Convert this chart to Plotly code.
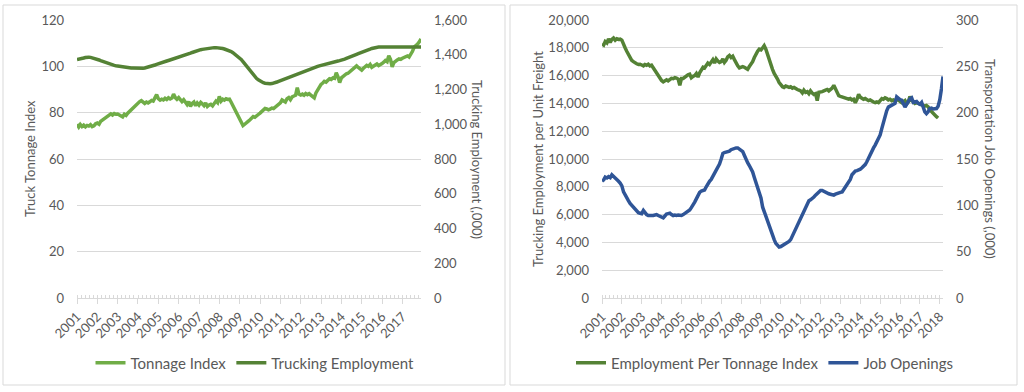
import plotly.graph_objects as go
import pandas as pd

# ---------------- data (monthly, from Jan 2001) ----------------
tonnage_index = [
    75.0, 73.8, 74.9, 74.0, 74.6, 73.9, 74.5, 74.2, 74.8, 74.0, 74.3, 75.2,
    75.5, 75.0, 76.2, 76.8, 77.5, 78.0, 78.5, 79.2, 79.5, 79.0, 79.6, 79.3,
    79.4, 79.0, 78.6, 78.2, 79.3, 78.8, 79.8, 80.5, 81.5, 82.2, 83.0, 83.2,
    84.0, 84.8, 85.2, 84.5, 84.0, 84.6, 84.2, 84.7, 85.3, 85.0, 86.5, 87.8,
    86.0, 85.4, 85.8, 85.5, 86.2, 85.7, 86.4, 85.9, 86.3, 88.0, 86.5, 85.8,
    86.5, 85.3, 84.8, 85.6, 84.5, 83.5, 84.8, 82.7, 84.0, 84.6, 83.0, 84.2,
    83.3, 84.4, 83.8, 83.0, 84.2, 82.7, 83.3, 83.6, 82.9, 84.0, 85.0, 84.3,
    87.0, 85.0, 85.8, 85.4, 86.0, 85.7, 85.8, 84.5, 83.0, 81.5, 79.8, 78.5,
    77.5, 75.8, 74.4, 75.0, 75.8, 76.2, 76.8, 77.5, 78.3, 78.0, 78.8, 79.2,
    79.8, 80.5, 81.2, 81.8, 81.6, 81.2, 81.5, 82.0, 81.8, 82.5, 83.0, 83.5,
    84.2, 85.5, 85.0, 84.6, 86.0, 86.5, 85.6, 86.8, 87.2, 87.5, 90.8, 88.0,
    87.6, 88.0, 87.5, 88.3, 87.8, 88.2, 87.6, 87.0, 86.4, 88.5, 90.0, 91.2,
    92.2, 92.8, 93.5, 93.2, 94.0, 94.6, 94.3, 95.0, 94.8, 97.2, 95.5, 93.0,
    95.0, 95.8, 96.2, 96.8, 97.0, 97.6, 98.2, 98.6, 99.4, 100.2, 99.5, 98.9,
    98.4, 99.2, 99.8, 100.4, 100.0, 100.8, 99.6, 100.2, 100.7, 101.0, 100.3, 100.6,
    101.2, 101.8, 102.5, 102.0, 104.6, 103.0, 99.8, 101.6, 102.5, 102.8, 103.2, 103.0,
    103.5, 103.8, 104.2, 104.5, 104.0, 105.0, 106.5, 108.3, 108.8, 109.6, 110.6, 111.8,
]

trucking_employment = [
    1372, 1373, 1375, 1378, 1381, 1384, 1386, 1386, 1385, 1383, 1380, 1377,
    1374, 1370, 1366, 1362, 1358, 1354, 1350, 1347, 1344, 1341, 1339, 1337,
    1335, 1333, 1331, 1329, 1328, 1327, 1326, 1325, 1324, 1324, 1323, 1323,
    1322, 1322, 1322, 1323, 1324, 1326, 1328, 1331, 1334, 1337, 1341, 1345,
    1349, 1352, 1355, 1358, 1361, 1364, 1367, 1370, 1373, 1376, 1379, 1382,
    1384, 1388, 1391, 1395, 1398, 1402, 1406, 1409, 1413, 1417, 1420, 1424,
    1427, 1429, 1431, 1433, 1435, 1437, 1438, 1439, 1440, 1441, 1441, 1441,
    1440, 1438, 1436, 1433, 1430, 1427, 1423, 1418, 1412, 1405, 1398, 1390,
    1382, 1372, 1360, 1347, 1334, 1320, 1307, 1295, 1283, 1272, 1263, 1256,
    1249, 1243, 1239, 1236, 1234, 1233, 1233, 1234, 1236, 1239, 1243, 1247,
    1251, 1255, 1259, 1263, 1267, 1271, 1275, 1279, 1283, 1287, 1291, 1294,
    1297, 1301, 1305, 1308, 1312, 1316, 1319, 1323, 1326, 1330, 1333, 1336,
    1339, 1341, 1344, 1346, 1349, 1351, 1354, 1356, 1359, 1361, 1364, 1366,
    1368, 1372, 1375, 1379, 1382, 1386, 1390, 1394, 1398, 1402, 1406, 1409,
    1412, 1416, 1420, 1424, 1428, 1432, 1436, 1439, 1441, 1443, 1444, 1444,
    1444, 1444, 1444, 1444, 1444, 1444, 1444, 1444, 1444, 1444, 1444, 1444,
    1444, 1444, 1444, 1444, 1444, 1444, 1444, 1444, 1444, 1444, 1444, 1444,
]

employment_per_tonnage = [
    18300, 18200, 18450, 18350, 18650, 18400, 18600, 18700, 18550, 18650, 18600, 18620,
    18550, 18200, 18000, 17750, 17500, 17300, 17100, 17000, 16900, 16850, 16800, 16820,
    16760, 16700, 16800, 16750, 16820, 16700, 16750, 16550, 16400, 16200, 16050, 15850,
    15650, 15550, 15600, 15700, 15620, 15680, 15800, 15780, 15850, 15820, 15750, 15300,
    15800, 15800, 15900, 15950, 16050, 16100, 15850, 15950, 16000, 16150, 15900, 16200,
    16400, 16600, 16550, 16750, 16900, 16800, 17000, 17150, 16900, 17200, 17050, 16950,
    17000, 17200, 16950, 17100, 17350, 17450, 17300, 17400, 17150, 16900, 16700, 16550,
    16600, 16650, 16600, 16500, 16450, 16650, 16800, 17000, 17300, 17600, 17750, 17900,
    17850, 18000, 18150, 17900, 17500, 17150, 16800, 16450, 16150, 16000, 15750, 15500,
    15300, 15200, 15150, 15250, 15200, 15150, 15200, 15100, 15150, 15050, 15000, 14950,
    14900, 14750, 14950, 14800, 14850, 14700, 14900, 14750, 14650, 14700, 14200, 14800,
    14800, 14850, 14900, 14950, 15000, 14900, 15000, 15100, 15300, 15000, 14700, 14550,
    14500, 14450, 14400, 14400, 14350, 14300, 14350, 14250, 14300, 14050, 14300, 14650,
    14450, 14350, 14300, 14350, 14250, 14200, 14250, 14150, 14100, 14050, 14100, 14050,
    14250, 14350, 14300, 14400, 14350, 14250, 14300, 14200, 14250, 14200, 14300, 14250,
    14150, 14050, 14100, 14200, 13950, 14100, 14500, 14200, 14150, 14000, 14050, 14000,
    13950, 13900, 13850, 13800, 13850, 13750, 13550, 13400, 13350, 13200, 13050, 12950,
]

job_openings = [
    126, 127.5, 130.5, 129.5, 131, 130, 133, 131.5, 129, 128.5, 126, 124,
    121, 114.5, 111, 108, 105, 102, 100, 97.5, 95, 93, 92, 91.5,
    91, 94.5, 92, 90, 89, 88.5, 89, 89, 89.5, 90, 89, 88,
    87.5, 86.5, 88.5, 90.5, 91, 91.5, 90, 89, 89.5, 89, 89.5, 89.5,
    89, 90, 91, 92, 93, 95, 97.5, 100, 103.5, 107, 111, 114,
    115.5, 116, 116.5, 120, 123.5, 126, 128, 131, 134, 137.5, 141.5, 144.5,
    150, 156, 157, 157.5, 158, 158.5, 160, 161, 161.5, 162, 162, 161,
    160, 158, 154, 149, 146, 143, 140, 136, 130, 124, 119, 114,
    108, 98, 93, 89, 84, 78, 73, 68, 63, 59, 57, 55,
    55.5, 56.5, 58, 59, 60, 61, 63, 67, 71, 75, 79, 82,
    86, 91, 95, 99, 102, 105, 106, 107, 109, 111, 113, 115,
    116, 116, 115, 113.5, 113, 112.5, 112, 111.5, 111, 112, 113, 114,
    114, 114.5, 117, 120, 122, 124, 128, 133, 135, 137, 137.5, 138,
    139, 140.5, 142, 144, 147, 151, 156, 159, 162, 165, 168.5, 172,
    176, 183, 190, 197, 202, 206, 207, 208, 209, 210, 217, 215,
    214, 213.5, 209, 206, 209, 212.5, 215, 216, 211, 211.5, 212, 210,
    209, 211, 205, 201, 199, 201, 204.5, 205, 204, 204, 204.5, 207,
    214, 226, 239,
]

months_a = pd.date_range("2001-01-01", periods=len(tonnage_index), freq="MS")
months_b = pd.date_range("2001-01-01", periods=len(job_openings), freq="MS")

# ---------------- styling ----------------
FONT = "Lato"
TXT = "#595959"
GRID = "#d9d9d9"
W, H = 1024, 392
LW = 3.5

def px_x(a, b):
    return [a / W, b / W]

def px_y(top, bottom):
    return [(H - bottom) / H, (H - top) / H]

fig = go.Figure()
fig.add_trace(go.Scatter(x=months_a, y=tonnage_index, name="Tonnage Index",
                         xaxis="x", yaxis="y", mode="lines",
                         line=dict(color="#70AD47", width=LW), legend="legend"))
fig.add_trace(go.Scatter(x=months_a, y=trucking_employment, name="Trucking Employment",
                         xaxis="x", yaxis="y2", mode="lines",
                         line=dict(color="#548235", width=LW), legend="legend"))
fig.add_trace(go.Scatter(x=months_a, y=employment_per_tonnage, name="Employment Per Tonnage Index",
                         xaxis="x2", yaxis="y3", mode="lines",
                         line=dict(color="#548235", width=LW), legend="legend2"))
fig.add_trace(go.Scatter(x=months_b, y=job_openings, name="Job Openings",
                         xaxis="x2", yaxis="y4", mode="lines",
                         line=dict(color="#2F5597", width=LW), legend="legend2"))

tick_font = dict(family=FONT, size=13, color=TXT)
minor_dt = 365.25 / 5 * 86400000

def xaxis_cfg(domain, anchor, rng):
    return dict(domain=domain, anchor=anchor, type="date", range=rng, automargin=False,
                dtick="M12", tick0="2001-01-01", tickformat="%Y", tickangle=-45,
                showgrid=False, zeroline=False, showline=True, linecolor=GRID, linewidth=1,
                ticks="outside", ticklen=5, tickcolor=GRID,
                minor=dict(ticks="inside", ticklen=3, tickcolor=GRID, dtick=minor_dt,
                           tick0="2001-01-01", showgrid=False),
                tickfont=tick_font)

def yaxis_cfg(domain, anchor, rng, dtick, grid=True, side="left", overlay=None, fmt=None):
    d = dict(domain=domain, anchor=anchor, range=rng, dtick=dtick, side=side, automargin=False,
             showgrid=grid, gridcolor=GRID, gridwidth=1, zeroline=False, showline=False,
             ticks="", tickfont=tick_font, ticklabelstandoff=12)
    if fmt:
        d["tickformat"] = fmt
    if overlay:
        d["overlaying"] = overlay
    return d

ydom = px_y(20, 298)
legend_font = dict(family=FONT, size=15, color=TXT)
fig.update_layout(
    width=W, height=H, margin=dict(l=0, r=0, t=0, b=0, autoexpand=False),
    paper_bgcolor="white", plot_bgcolor="white",
    font=dict(family=FONT, color=TXT),
    xaxis=xaxis_cfg(px_x(77, 421), "y", ["2001-01-01", "2017-12-01"]),
    yaxis=yaxis_cfg(ydom, "x", [0, 120], 20),
    yaxis2=yaxis_cfg(ydom, "x", [0, 1600], 200, grid=False, side="right", overlay="y", fmt=","),
    xaxis2=xaxis_cfg(px_x(602, 943), "y3", ["2001-01-01", "2018-03-01"]),
    yaxis3=yaxis_cfg(ydom, "x2", [0, 20000], 2000, fmt=","),
    yaxis4=yaxis_cfg(ydom, "x2", [0, 300], 50, grid=False, side="right", overlay="y3"),
    legend=dict(orientation="h", x=255 / W, xanchor="center", y=(H - 363) / H, yanchor="middle",
                font=legend_font, bgcolor="rgba(0,0,0,0)", itemwidth=30),
    legend2=dict(orientation="h", x=765 / W, xanchor="center", y=(H - 363) / H, yanchor="middle",
                 font=legend_font, bgcolor="rgba(0,0,0,0)", itemwidth=30),
    showlegend=True,
)

title_font = dict(family=FONT, size=13, color=TXT)
yc = (H - 159) / H
for text, xp, ang in [
    ("Truck Tonnage Index", 30, -90),
    ("Trucking Employment (,000)", 477, 90),
    ("Trucking Employment per Unit Freight", 538, -90),
    ("Transportation Job Openings (,000)", 990, 90),
]:
    fig.add_annotation(text=text, xref="paper", yref="paper", x=xp / W, y=yc,
                       xanchor="center", yanchor="middle", textangle=ang,
                       showarrow=False, font=title_font)

# panel borders
for x0, x1 in [(3, 505), (510, 1017)]:
    fig.add_shape(type="rect", xref="paper", yref="paper",
                  x0=x0 / W, x1=x1 / W, y0=(H - 385) / H, y1=(H - 5) / H,
                  line=dict(color=GRID, width=1), fillcolor="rgba(0,0,0,0)", layer="below")

fig.write_html("out.html", config={"displayModeBar": False},
               post_script="document.body.style.margin='0';")
